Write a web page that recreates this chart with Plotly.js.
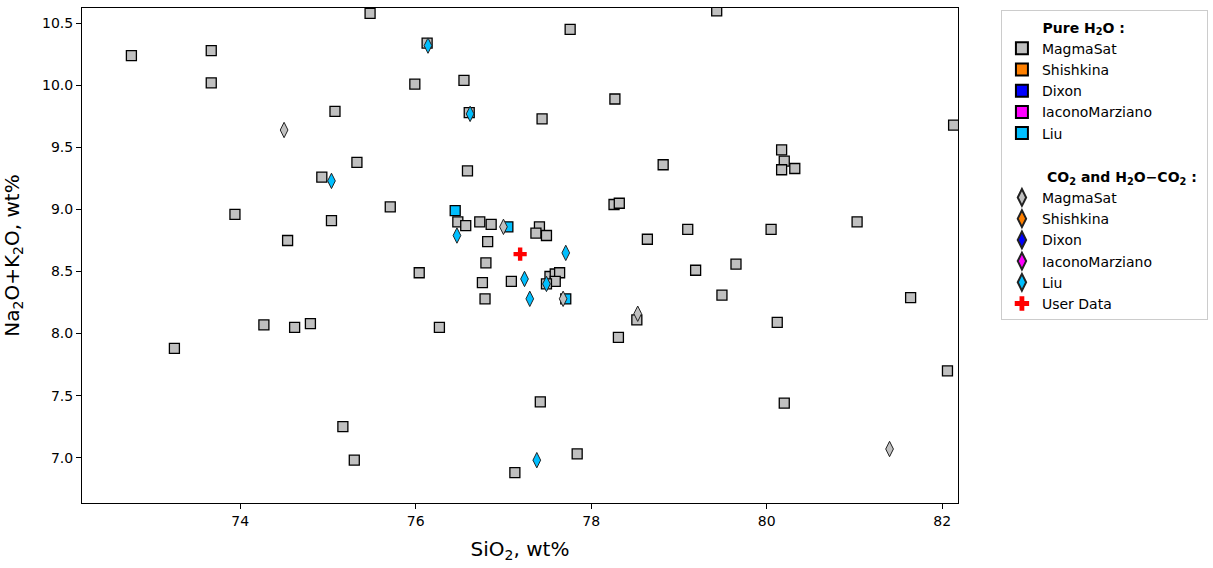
<!DOCTYPE html>
<html>
<head>
<meta charset="utf-8">
<script src="https://cdn.plot.ly/plotly-3.0.1.min.js"></script>
<style>html,body{margin:0;padding:0;background:#fff;}#chart{width:1213px;height:568px;}</style>
</head>
<body>
<div id="chart"></div>
<script>
// Pure H2O - MagmaSat (squares)
const h2oMagmaSatX = [75.48,73.67,72.76,73.67,75.08,75.33,74.93,73.94,75.04,74.54,77.76,76.13,75.99,76.55,78.27,76.61,77.44,78.82,76.59,75.71,78.26,78.32,76.48,76.57,76.73,76.86,77.41,77.37,77.49,76.82,78.64,76.80,79.43,82.13,80.17,80.20,80.17,80.32,79.10,80.05,81.03,79.65,79.19,79.49,81.64,80.12,82.06,80.20,74.27,74.62,74.80,73.25,75.17,75.30,76.04,76.76,77.09,77.53,77.59,77.64,77.59,77.49,76.79,78.52,76.27,78.31,77.42,77.84,77.13];
const h2oMagmaSatY = [10.58,10.28,10.24,10.02,9.79,9.38,9.26,8.96,8.91,8.75,10.45,10.34,10.01,10.04,9.89,9.78,9.73,9.36,9.31,9.02,9.04,9.05,8.90,8.87,8.90,8.88,8.86,8.81,8.79,8.74,8.76,8.57,10.60,9.68,9.48,9.39,9.32,9.33,8.84,8.84,8.90,8.56,8.51,8.31,8.29,8.09,7.70,7.44,8.07,8.05,8.08,7.88,7.25,6.98,8.49,8.41,8.42,8.46,8.48,8.49,8.42,8.40,8.28,8.11,8.05,7.97,7.45,7.03,6.88];
// Pure H2O - Liu (squares)
const h2oLiuX = [76.45,77.05,77.71];
const h2oLiuY = [8.99,8.86,8.28];
// CO2 and H2O-CO2 - MagmaSat (diamonds)
const mixMagmaSatX = [74.50,77.00,77.68,78.53,81.40];
const mixMagmaSatY = [9.64,8.86,8.28,8.16,7.07];
// CO2 and H2O-CO2 - Liu (diamonds)
const mixLiuX = [75.04,76.14,76.62,76.47,77.71,77.24,77.49,77.30,77.38];
const mixLiuY = [9.23,10.32,9.77,8.79,8.65,8.44,8.40,8.28,6.98];
// User data
const userX = [77.19];
const userY = [8.64];

const modelNames = ["MagmaSat","Shishkina","Dixon","IaconoMarziano","Liu"];
const modelColors = ["#C0C0C0","#FF8000","#0000FF","#FF00FF","#00BFFF"];
const groupTitle1 = "Pure H<sub>2</sub>O :";
const groupTitle2 = "CO<sub>2</sub> and H<sub>2</sub>O\u2212CO<sub>2</sub> :";

const sqData = {MagmaSat:[h2oMagmaSatX,h2oMagmaSatY], Liu:[h2oLiuX,h2oLiuY]};
const diData = {MagmaSat:[mixMagmaSatX,mixMagmaSatY], Liu:[mixLiuX,mixLiuY]};
const pad = n => "\u00a0".repeat(n);

const traces = [];
modelNames.forEach((m,i)=>{
  const d = sqData[m] || [[null],[null]];
  const t = {
    type:"scatter", mode:"markers", name:m, x:d[0], y:d[1],
    legendgroup:"h2o",
    marker:{symbol:"square", size:10, color:modelColors[i], line:{color:"#000", width:1.3}},
    hoverinfo:"x+y"
  };
  if(i===0) t.legendgrouptitle = {text:pad(8)+"<b>"+groupTitle1+"</b>", font:{size:14, color:"#000"}};
  traces.push(t);
});
modelNames.forEach((m,i)=>{
  const d = diData[m] || [[null],[null]];
  const t = {
    type:"scatter", mode:"markers", name:m, x:d[0], y:d[1],
    legendgroup:"co2",
    marker:{symbol:"diamond-tall", size:11, color:modelColors[i], line:{color:"#222", width:1}},
    hoverinfo:"x+y"
  };
  if(i===0) t.legendgrouptitle = {text:pad(9)+"<b>"+groupTitle2+"</b>", font:{size:14, color:"#000"}};
  traces.push(t);
});
traces.push({
  type:"scatter", mode:"markers", name:"User Data", x:userX, y:userY,
  legendgroup:"co2",
  marker:{symbol:"cross", size:11, color:"#FF0000", line:{width:0}}
});

const layout = {
  width:1213, height:568,
  font:{family:"DejaVu Sans", size:14, color:"#000"},
  paper_bgcolor:"#fff", plot_bgcolor:"#fff",
  margin:{l:82, r:255, t:8, b:65, pad:0, autoexpand:false},
  showlegend:true,
  legend:{x:1.049, y:0.995, xanchor:"left", yanchor:"top",
    bordercolor:"#cccccc", borderwidth:1, bgcolor:"#fff",
    font:{size:14}, tracegroupgap:22, itemsizing:"constant"},
  xaxis:{
    range:[72.197, 82.18], dtick:2, tick0:0,
    showgrid:false, zeroline:false,
    showline:true, linecolor:"#000", linewidth:1, mirror:true,
    ticks:"outside", ticklen:5, tickcolor:"#000", tickwidth:1,
    tickfont:{size:14},
    title:{text:"SiO<sub>2</sub>, wt%", font:{size:20}, standoff:14},
    automargin:false
  },
  yaxis:{
    range:[6.635, 10.623], dtick:0.5, tick0:0, tickformat:".1f",
    showgrid:false, zeroline:false,
    showline:true, linecolor:"#000", linewidth:1, mirror:true,
    ticks:"outside", ticklen:5, tickcolor:"#000", tickwidth:1,
    tickfont:{size:14},
    title:{text:"Na<sub>2</sub>O+K<sub>2</sub>O, wt%", font:{size:20}, standoff:19},
    automargin:false
  }
};
Plotly.newPlot("chart", traces, layout, {displayModeBar:false, staticPlot:true});
</script>
</body>
</html>
